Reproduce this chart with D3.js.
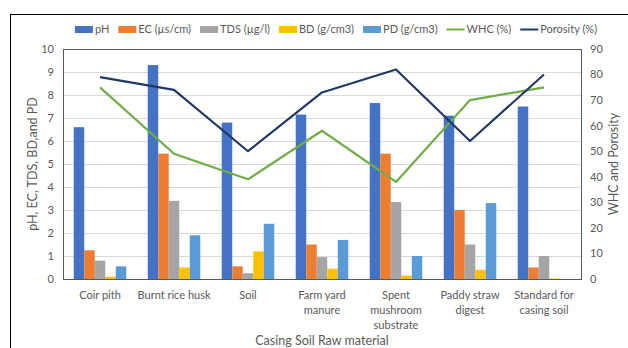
<!DOCTYPE html>
<html>
<head>
<meta charset="utf-8">
<script src="https://cdn.jsdelivr.net/npm/d3@7"></script>
<style>
  body { margin: 0; background: #fff; }
  text { font-family: Lato, "Open Sans", sans-serif; fill: #595959; }
</style>
</head>
<body>
<svg id="chart" width="628" height="348"></svg>
<script>
// categories (x labels, split on lines)
const categories = ["Coir pith", "Burnt rice husk", "Soil", "Farm yard manure", "Spent mushroom substrate", "Paddy straw digest", "Standard for casing soil"]
const catLines = [["Coir pith"], ["Burnt rice husk"], ["Soil"], ["Farm yard", "manure"], ["Spent", "mushroom", "substrate"], ["Paddy straw", "digest"], ["Standard for", "casing soil"]]

// bar series (left axis)
const pH  = [6.6, 9.3, 6.8, 7.15, 7.65, 7.1, 7.5]
const EC  = [1.25, 5.45, 0.55, 1.5, 5.45, 3.0, 0.5]
const TDS = [0.8, 3.4, 0.25, 0.95, 3.35, 1.5, 1.0]
const BD  = [0.1, 0.5, 1.2, 0.45, 0.15, 0.4, 0.02]
const PD  = [0.55, 1.9, 2.4, 1.7, 1.0, 3.3, 0]

// line series (right axis)
const WHC = [75, 49, 39, 58, 38, 70, 75]
const porosity = [79, 74, 50, 73, 82, 54, 80]

const leftTicks = d3.range(0, 11, 1)
const rightTicks = d3.range(0, 91, 10)

let barSeries = [
  { name: "pH", values: pH, color: "#4472c4" },
  { name: "EC (µs/cm)", values: EC, color: "#ed7d31" },
  { name: "TDS (µg/l)", values: TDS, color: "#a5a5a5" },
  { name: "BD (g/cm3)", values: BD, color: "#ffc000" },
  { name: "PD (g/cm3)", values: PD, color: "#5b9bd5" }
]
let lineSeries = [
  { name: "WHC (%)", values: WHC, color: "#70ad47" },
  { name: "Porosity (%)", values: porosity, color: "#203864" }
]

let svg = d3.select("#chart")
let plot = { left: 63, right: 581, top: 49, bottom: 279 }

// outer frame
svg.append("rect")
  .attr("x", 10.5).attr("y", 14.5)
  .attr("width", 640).attr("height", 360)
  .attr("fill", "none").attr("stroke", "#000").attr("stroke-width", 1)

let x = d3.scaleBand()
  .domain(categories)
  .range([plot.left, plot.right])
  .paddingInner(0.29)
  .paddingOuter(0.145)

let xSeries = d3.scaleBand()
  .domain(barSeries.map(d => d.name))
  .range([0, x.bandwidth()])

let yLeft = d3.scaleLinear().domain([0, 10]).range([plot.bottom, plot.top])
let yRight = d3.scaleLinear().domain([0, 90]).range([plot.bottom, plot.top])

// gridlines
svg.append("g")
  .selectAll("line")
  .data(leftTicks)
  .join("line")
  .attr("x1", plot.left).attr("x2", plot.right)
  .attr("y1", d => Math.round(yLeft(d)) + 0.5)
  .attr("y2", d => Math.round(yLeft(d)) + 0.5)
  .attr("stroke", "#d9d9d9")

// bars
svg.append("g")
  .selectAll("g")
  .data(barSeries)
  .join("g")
  .attr("fill", d => d.color)
  .selectAll("rect")
  .data(s => s.values.map((v, i) => ({ s: s.name, cat: categories[i], v })))
  .join("rect")
  .attr("x", d => x(d.cat) + xSeries(d.s))
  .attr("width", xSeries.bandwidth())
  .attr("y", d => yLeft(d.v))
  .attr("height", d => plot.bottom - yLeft(d.v))

// lines
let line = d3.line()
  .x((d, i) => x(categories[i]) + x.bandwidth() / 2)
  .y(d => yRight(d))

svg.append("g")
  .selectAll("path")
  .data(lineSeries)
  .join("path")
  .attr("d", d => line(d.values))
  .attr("fill", "none")
  .attr("stroke", d => d.color)
  .attr("stroke-width", 2.2)
  .attr("stroke-linejoin", "round")

// plot border
svg.append("rect")
  .attr("x", plot.left + 0.5).attr("y", plot.top + 0.5)
  .attr("width", plot.right - plot.left).attr("height", plot.bottom - plot.top)
  .attr("fill", "none").attr("stroke", "#595959").attr("stroke-width", 1)

// left axis labels
svg.append("g")
  .selectAll("text")
  .data(leftTicks)
  .join("text")
  .attr("x", 54)
  .attr("y", d => yLeft(d))
  .attr("dy", "0.35em")
  .attr("text-anchor", "end")
  .style("font-size", "11px")
  .text(d => d)

// right axis labels
svg.append("g")
  .selectAll("text")
  .data(rightTicks)
  .join("text")
  .attr("x", 590)
  .attr("y", d => yRight(d))
  .attr("dy", "0.35em")
  .style("font-size", "11px")
  .text(d => d)

// category labels
let catG = svg.append("g")
  .selectAll("text")
  .data(categories)
  .join("text")
  .attr("x", d => x(d) + x.bandwidth() / 2)
  .attr("y", 299)
  .attr("text-anchor", "middle")
  .style("font-size", "11px")

catG.selectAll("tspan")
  .data((d, i) => catLines[i])
  .join("tspan")
  .attr("x", function () { return this.parentNode.getAttribute("x") })
  .attr("dy", (d, i) => i === 0 ? 0 : 15)
  .text(d => d)

// axis titles
svg.append("text")
  .attr("x", (plot.left + plot.right) / 2)
  .attr("y", 345)
  .attr("text-anchor", "middle")
  .style("font-size", "12.5px")
  .text("Casing Soil Raw material")

svg.append("text")
  .attr("transform", "translate(37,164) rotate(-90)")
  .attr("text-anchor", "middle")
  .style("font-size", "12.5px")
  .text("pH, EC, TDS, BD,and PD")

svg.append("text")
  .attr("transform", "translate(618,164) rotate(-90)")
  .attr("text-anchor", "middle")
  .style("font-size", "12.5px")
  .text("WHC and Porosity")

// legend
let legendItems = barSeries.map(d => ({ ...d, type: "bar" }))
  .concat(lineSeries.map(d => ({ ...d, type: "line" })))

let legend = svg.append("g")
let lx = 0
legendItems.forEach(item => {
  let g = legend.append("g").attr("transform", `translate(${lx},0)`)
  if (item.type === "bar") {
    g.append("rect").attr("x", 0).attr("y", -3).attr("width", 18).attr("height", 7).attr("fill", item.color)
  } else {
    g.append("line").attr("x1", 0).attr("x2", 18).attr("y1", 0.5).attr("y2", 0.5)
      .attr("stroke", item.color).attr("stroke-width", 2)
  }
  let t = g.append("text").attr("x", 20).attr("y", 0).attr("dy", "0.35em")
    .style("font-size", "11px").text(item.name)
  lx += 20 + t.node().getComputedTextLength() + 9
})
let legendW = lx - 9
legend.attr("transform", `translate(${336 - legendW / 2},29)`)
</script>
</body>
</html>
